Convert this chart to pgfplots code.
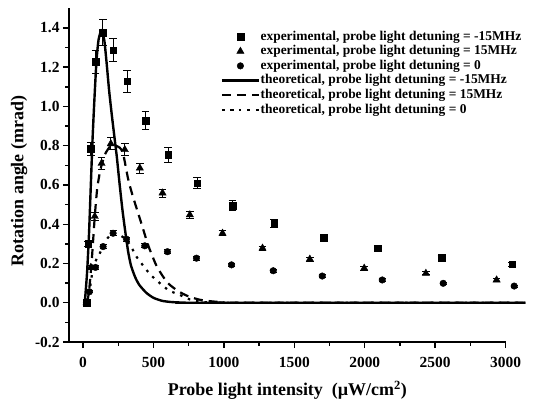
\documentclass[border=0pt]{standalone}
\usepackage{fontspec}
\setmainfont{Liberation Serif}
\usepackage{pgfplots}
\pgfplotsset{compat=1.18}
\begin{document}
\begin{tikzpicture}
\useasboundingbox (0,0) rectangle (542bp,408bp);
\begin{axis}[
  at={(69bp,66bp)}, anchor=south west,
  scale only axis, width=436.6bp, height=333.7bp,
  xmin=-100, xmax=3000, ymin=-0.2, ymax=1.5,
  clip=false,
  axis x line*=bottom, axis y line*=left,
  axis line style={line width=1.8bp},
  tick align=outside,
  major tick length=6bp, minor tick length=3.5bp,
  every tick/.style={line width=1.4bp, black},
  xtick={0,500,1000,1500,2000,2500,3000},
  ytick={-0.2,0,0.2,0.4,0.6,0.8,1.0,1.2,1.4},
  minor x tick num=1, minor y tick num=1,
  /pgf/number format/assume math mode=true,
  tick label style={font=\fontsize{15.5}{17}\selectfont\bfseries},
  xticklabel style={/pgf/number format/1000 sep={}, yshift=-6bp},
  yticklabel style={/pgf/number format/.cd, fixed, fixed zerofill, precision=1},
  xlabel={Probe light intensity\ \ (\textmu W/cm\textsuperscript{2})},
  ylabel={Rotation angle (mrad)},
  every axis x label/.style={at={(axis description cs:0.5,-0.144)}, anchor=center, font=\fontsize{18}{20}\selectfont\bfseries},
  every axis y label/.style={at={(axis description cs:-0.1145,0.4825)}, rotate=90, anchor=center, font=\fontsize{18}{20}\selectfont\bfseries},
  legend image code/.code={\draw[mark repeat=2,mark phase=2,#1] plot coordinates {(0bp,0bp) (18.5bp,0bp) (37bp,0bp)};},
  legend style={draw=none, fill=none, at={(0.347,0.935)}, anchor=north west, inner sep=0pt,
    font=\fontsize{13.5}{15}\selectfont\bfseries, row sep=1.6bp, cells={anchor=west},
    nodes={inner xsep=0.5bp, inner ysep=0pt, text height=10bp, text depth=3bp}},
  legend cell align=left,
]
% experimental -15 MHz
\addplot[only marks, mark=square*, mark size=3.3bp, black,
  error bars/.cd, y dir=both, y explicit,
  error bar style={line width=0.8bp, black},
  error mark options={rotate=90, mark size=3.8bp, line width=0.8bp, black}]
  coordinates {
  (25,0.00) +- (0,0)
  (36,0.30) +- (0,0.015)
  (55,0.784) +- (0,0.035)
  (88,1.228) +- (0,0.06)
  (140,1.376) +- (0,0.065)
  (213,1.287) +- (0,0.06)
  (313,1.129) +- (0,0.055)
  (443,0.928) +- (0,0.045)
  (604,0.754) +- (0,0.038)
  (810,0.61) +- (0,0.03)
  (1061,0.494) +- (0,0.026)
  (1357,0.405) +- (0,0.022)
  (1710,0.329) +- (0,0.018)
  (2091,0.278) +- (0,0.015)
  (2545,0.23) +- (0,0.013)
  (3047,0.196) +- (0,0.012)
  };
\addlegendentry{experimental, probe light detuning = -15MHz}
% experimental 15 MHz
\addplot[only marks, mark=triangle*, mark size=4.2bp, black,
  error bars/.cd, y dir=both, y explicit,
  error bar style={line width=0.8bp, black},
  error mark options={rotate=90, mark size=3.8bp, line width=0.8bp, black}]
  coordinates {
  (25,0.00) +- (0,0)
  (55,0.18) +- (0,0.01)
  (83,0.44) +- (0,0.02)
  (131,0.71) +- (0,0.03)
  (197,0.81) +- (0,0.03)
  (296,0.78) +- (0,0.03)
  (403,0.686) +- (0,0.025)
  (564,0.559) +- (0,0.02)
  (758,0.448) +- (0,0.016)
  (990,0.354) +- (0,0.013)
  (1274,0.278) +- (0,0.011)
  (1610,0.222) +- (0,0.01)
  (1996,0.176) +- (0,0.009)
  (2434,0.150) +- (0,0.008)
  (2936,0.116) +- (0,0.008)
  };
\addlegendentry{experimental, probe light detuning = 15MHz}
% experimental 0
\addplot[only marks, mark=*, mark size=3.3bp, black,
  error bars/.cd, y dir=both, y explicit,
  error bar style={line width=0.8bp, black},
  error mark options={rotate=90, mark size=3.5bp, line width=0.8bp, black}]
  coordinates {
  (25,0.00) +- (0,0)
  (45,0.056) +- (0,0.005)
  (88,0.18) +- (0,0.01)
  (142,0.286) +- (0,0.01)
  (213,0.354) +- (0,0.012)
  (308,0.324) +- (0,0.011)
  (438,0.29) +- (0,0.01)
  (599,0.26) +- (0,0.01)
  (805,0.227) +- (0,0.009)
  (1054,0.193) +- (0,0.008)
  (1350,0.163) +- (0,0.007)
  (1698,0.136) +- (0,0.006)
  (2124,0.116) +- (0,0.006)
  (2557,0.099) +- (0,0.005)
  (3061,0.085) +- (0,0.005)
  };
\addlegendentry{experimental, probe light detuning = 0}
% theoretical -15 MHz
\addplot[black, line width=2.4bp, smooth, tension=0.4] coordinates {
  (12,0) (28,0.15) (42,0.35) (55,0.6) (67,0.83) (80,1.03) (95,1.23) (110,1.34)
  (130,1.385) (150,1.34) (166,1.23) (185,1.08) (205,0.95) (225,0.83) (240,0.74)
  (260,0.60) (280,0.47) (300,0.36) (320,0.26) (340,0.19) (370,0.13) (400,0.09)
  (450,0.05) (500,0.025) (560,0.01) (620,0.004) (700,0.001) (800,0) (3140,0)
};
\addlegendentry{theoretical, probe light detuning = -15MHz}
% theoretical 15 MHz
\addplot[black, line width=2.2bp, dash pattern=on 9bp off 6bp, smooth, tension=0.4] coordinates {
  (30,0) (43,0.065) (60,0.2) (83,0.44) (100,0.58) (118,0.66) (131,0.70) (154,0.754)
  (175,0.78) (197,0.80) (230,0.80) (260,0.79) (284,0.76) (320,0.63) (350,0.55)
  (391,0.456) (420,0.39) (450,0.32) (474,0.27) (520,0.19) (568,0.133) (610,0.095)
  (663,0.065) (710,0.045) (758,0.03) (830,0.015) (900,0.008) (1000,0.002) (1100,0) (3140,0)
};
\addlegendentry{theoretical, probe light detuning = 15MHz}
% theoretical 0
\addplot[black, line width=2.2bp, dash pattern=on 2.5bp off 6bp, smooth, tension=0.4] coordinates {
  (30,0) (45,0.05) (60,0.13) (80,0.2) (107,0.235) (142,0.286) (175,0.33) (213,0.354)
  (260,0.345) (308,0.32) (345,0.28) (379,0.235) (415,0.2) (450,0.167) (490,0.135)
  (533,0.107) (570,0.085) (604,0.065) (650,0.05) (687,0.04) (720,0.028) (758,0.017)
  (800,0.01) (850,0.004) (900,0.001) (950,0) (3140,0)
};
\addlegendentry{theoretical, probe light detuning = 0}
\end{axis}
\end{tikzpicture}
\end{document}
